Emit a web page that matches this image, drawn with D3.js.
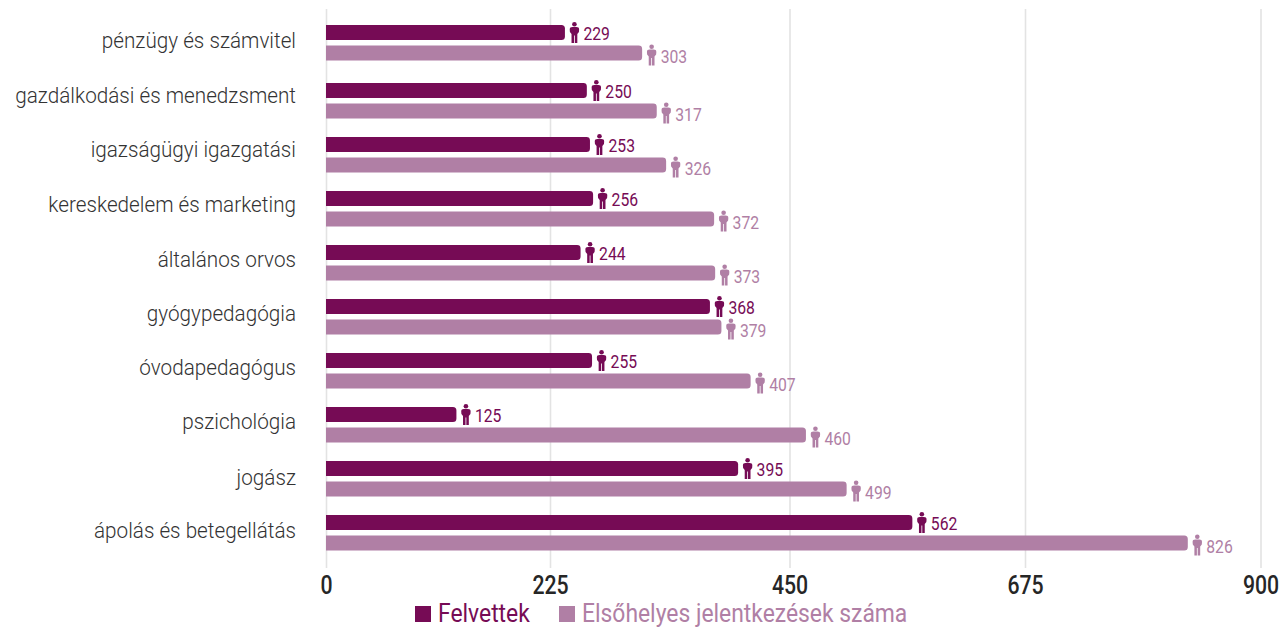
<!DOCTYPE html>
<html>
<head>
<meta charset="utf-8">
<script src="https://cdn.jsdelivr.net/npm/d3@7"></script>
<style>
html, body { margin: 0; padding: 0; background: #fff; overflow: hidden; }
text { font-family: "Roboto", sans-serif; }
</style>
</head>
<body>
<svg width="1281" height="628"></svg>
<script>
// chart data
var categories = ['pénzügy és számvitel', 'gazdálkodási és menedzsment', 'igazságügyi igazgatási',
    'kereskedelem és marketing', 'általános orvos', 'gyógypedagógia', 'óvodapedagógus',
    'pszichológia', 'jogász', 'ápolás és betegellátás'];
var felvettek = [229, 250, 253, 256, 244, 368, 255, 125, 395, 562];
var jelentkezesek = [303, 317, 326, 372, 373, 379, 407, 460, 499, 826];
var tickValues = [0, 225, 450, 675, 900];
var seriesNames = ['Felvettek', 'Elsőhelyes jelentkezések száma'];

var dark = '#760b55';
var light = '#b07fa5';

var svg = d3.select('svg');

// bars run on this scale
var x = d3.scaleLinear().domain([0, 900]).range([326, 1265]);
// the gridlines in the original are not quite evenly spaced
var gridX = d3.scaleLinear().domain(tickValues).range([326, 550, 789.5, 1025, 1260.5]);
// rows are not evenly spaced either, so top of each row by hand
var rowY = d3.scaleOrdinal().domain(categories)
    .range([25, 83, 137, 191, 245, 299, 353, 407, 461, 515]);
var labelY = d3.scaleOrdinal().domain(categories)
    .range([41, 96, 150, 205, 260, 314, 368, 422, 478, 531]);

var barH = 15;
var barGap = 5.5;

// gridlines + tick labels
var axis = d3.axisBottom(gridX).tickValues(tickValues).tickSize(559).tickFormat(d3.format('d'));
var axisG = svg.append('g').attr('transform', 'translate(0,9)').call(axis);
axisG.select('.domain').remove();
axisG.selectAll('line').attr('stroke', '#e3e3e3').attr('stroke-width', 1.6);
axisG.selectAll('text')
    .attr('fill', '#262626')
    .style('font-size', '25px')
    .style('font-weight', 500)
    .attr('y', 0)
    .attr('dy', 0)
    .attr('transform', 'translate(0,585) scale(0.85,1)');

// bar with only the right corners rounded
function barPath(x0, x1, y, h) {
    var r = 3.5;
    var p = d3.path();
    p.moveTo(x0, y);
    p.lineTo(x1 - r, y);
    p.arcTo(x1, y, x1, y + r, r);
    p.lineTo(x1, y + h - r);
    p.arcTo(x1, y + h, x1 - r, y + h, r);
    p.lineTo(x0, y + h);
    p.closePath();
    return p.toString();
}

// little person icon, drawn around 0,0
var personPath = 'M-2,-5.4 H2 Q4.7,-5.4 4.7,-3 L4.5,-0.6 L2.9,1.6 V10.5 H0.4 V3 H-0.4 V10.5 H-2.9 V1.6 L-4.5,-0.6 L-4.7,-3 Q-4.7,-5.4 -2,-5.4 Z';

function drawSeries(values, color, offset, labelShift) {
    var g = svg.append('g');
    var rows = categories.map(function (c, i) {
        return { cat: c, value: values[i] };
    });

    g.selectAll('path.bar').data(rows).enter().append('path')
        .attr('class', 'bar')
        .attr('fill', color)
        .attr('d', function (d) {
            return barPath(x(0), x(d.value), rowY(d.cat) + offset, barH);
        });

    var icons = g.selectAll('g.person').data(rows).enter().append('g')
        .attr('class', 'person')
        .attr('transform', function (d) {
            return 'translate(' + (x(d.value) + 9.5) + ',' + (rowY(d.cat) + offset + barH / 2 + labelShift) + ')';
        });
    icons.append('circle').attr('cy', -8.3).attr('r', 2.3).attr('fill', color);
    icons.append('path').attr('d', personPath).attr('fill', color);

    g.selectAll('text').data(rows).enter().append('text')
        .text(function (d) { return d.value; })
        .attr('fill', color)
        .style('font-size', '18.5px')
        .style('font-weight', 400)
        .attr('transform', function (d) {
            return 'translate(' + (x(d.value) + 18.5) + ',' + (rowY(d.cat) + offset + barH / 2 + labelShift + 7.5) + ') scale(0.85,1)';
        });
}

drawSeries(jelentkezesek, light, barH + barGap, 2);
drawSeries(felvettek, dark, 0, 0);

// category labels
svg.append('g').selectAll('text').data(categories).enter().append('text')
    .text(function (d) { return d; })
    .attr('fill', '#333')
    .attr('text-anchor', 'end')
    .style('font-size', '22.5px')
    .style('font-weight', 300)
    .attr('transform', function (d) {
        return 'translate(296,' + (labelY(d) + 6.5) + ') scale(0.92,1)';
    });

// legend
var legend = svg.append('g').selectAll('g')
    .data(seriesNames).enter().append('g')
    .attr('transform', function (d, i) {
        return 'translate(' + [415, 559][i] + ',606)';
    });
legend.append('rect').attr('width', 16).attr('height', 16)
    .attr('fill', function (d, i) { return [dark, light][i]; });
legend.append('text')
    .text(function (d) { return d; })
    .attr('fill', function (d, i) { return [dark, light][i]; })
    .style('font-size', '26px')
    .attr('transform', 'translate(23,15.7) scale(0.88,1)');
</script>
</body>
</html>
